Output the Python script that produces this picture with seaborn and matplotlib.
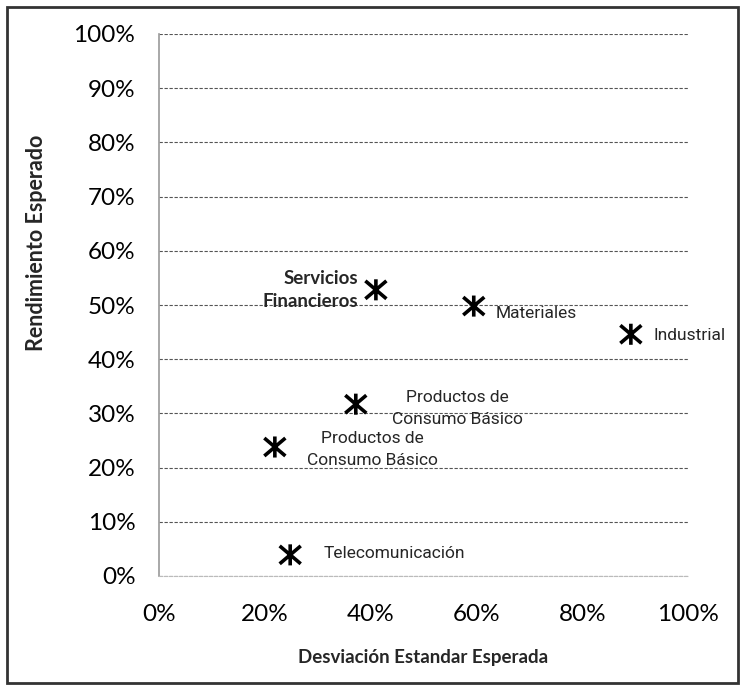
import pandas as pd
import seaborn as sns
import matplotlib.pyplot as plt
from matplotlib.patches import Rectangle
from matplotlib.path import Path
from matplotlib.ticker import PercentFormatter

sectores = ["Servicios\nFinancieros", "Materiales", "Industrial",
            "Productos de\nConsumo Básico", "Productos de\nConsumo Básico",
            "Telecomunicación"]
desviacion = [0.41, 0.595, 0.892, 0.372, 0.219, 0.248]
rendimiento = [0.528, 0.498, 0.446, 0.317, 0.238, 0.039]

df = pd.DataFrame({"sector": sectores, "desv": desviacion, "rend": rendimiento})

# marcador tipo asterisco de Excel: X con linea vertical
asterisco = Path([(-1, -0.85), (1, 0.85), (-1, 0.85), (1, -0.85), (0, -1), (0, 1)],
                 [Path.MOVETO, Path.LINETO, Path.MOVETO, Path.LINETO,
                  Path.MOVETO, Path.LINETO])

sns.set_theme(style="white")
plt.rcParams['font.family'] = ['Lato', 'DejaVu Sans']

fig = plt.figure(figsize=(7.45, 6.9), dpi=100)
ax = fig.add_axes([159 / 745, 1 - 576 / 690, 529 / 745, 542 / 690])

sns.scatterplot(data=df, x="desv", y="rend", ax=ax, marker=asterisco,
                s=230, facecolor="none", edgecolor="black", linewidth=2.6,
                zorder=3, legend=False)

ax.set_xlim(0, 1)
ax.set_ylim(0, 1)
ax.set_xticks([0, 0.2, 0.4, 0.6, 0.8, 1.0])
ax.set_yticks([i / 10 for i in range(11)])
ax.xaxis.set_major_formatter(PercentFormatter(1.0, decimals=0))
ax.yaxis.set_major_formatter(PercentFormatter(1.0, decimals=0))
ax.tick_params(axis="both", labelsize=17.5, colors="#000000")
ax.tick_params(axis="y", direction="out", length=7, width=1, color="#999999", pad=10)
ax.tick_params(axis="x", direction="out", length=7, width=1, color="#bbbbbb", pad=13)
for t in ax.xaxis.get_ticklines():
    t.set_linestyle((0, (2, 2)))

ax.grid(axis="y", linestyle=(0, (3, 1.5)), color="#555555", linewidth=0.8)
ax.grid(axis="x", visible=False)
for side in ["top", "right"]:
    ax.spines[side].set_visible(False)
ax.spines["left"].set_color("#999999")
ax.spines["left"].set_linewidth(1.2)
ax.spines["bottom"].set_color("#bbbbbb")
ax.spines["bottom"].set_linestyle((0, (3, 1.5)))
ax.spines["bottom"].set_linewidth(0.8)
ax.set_xlabel("")
ax.set_ylabel("")

narrow = ['Liberation Sans Narrow', 'Roboto', 'DejaVu Sans']
# etiquetas de los sectores
ax.annotate(sectores[0], (desviacion[0], rendimiento[0]), xytext=(-13, 0),
            textcoords="offset points", ha="right", va="center",
            fontsize=13.5, fontweight="bold", linespacing=1.4)
ax.annotate(sectores[1], (desviacion[1], rendimiento[1]), xytext=(16, -5),
            textcoords="offset points", ha="left", va="center",
            fontsize=12.5, family=narrow)
ax.annotate(sectores[2], (desviacion[2], rendimiento[2]), xytext=(16, -1),
            textcoords="offset points", ha="left", va="center",
            fontsize=12.5, family=narrow)
ax.annotate(sectores[3], (desviacion[3], rendimiento[3]), xytext=(73, -3),
            textcoords="offset points", ha="center", va="center",
            fontsize=12.5, family=narrow, linespacing=1.55)
ax.annotate(sectores[4], (desviacion[4], rendimiento[4]), xytext=(70, -2),
            textcoords="offset points", ha="center", va="center",
            fontsize=12.5, family=narrow, linespacing=1.55)
ax.annotate(sectores[5], (desviacion[5], rendimiento[5]), xytext=(24, 1),
            textcoords="offset points", ha="left", va="center",
            fontsize=12.5, family=narrow)

fig.text(423 / 745, 1 - 657 / 690, "Desviación Estandar Esperada",
         ha="center", va="center", fontsize=13.5, fontweight="bold")
fig.text(37 / 745, 1 - 243 / 690, "Rendimiento Esperado", rotation=90,
         ha="center", va="center", fontsize=15.5, fontweight="bold")

fig.patches.append(Rectangle((7 / 745, 7 / 690), 731 / 745, 676 / 690,
                             transform=fig.transFigure, fill=False,
                             edgecolor="#333333", linewidth=2))

fig.savefig("out.png", dpi=100)
